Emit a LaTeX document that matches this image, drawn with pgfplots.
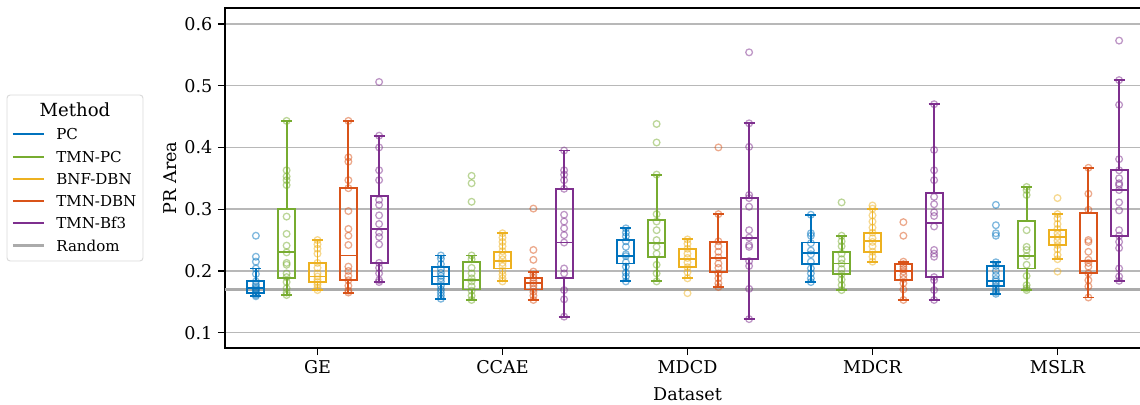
\documentclass[border=0pt]{standalone}
\usepackage{fontspec}
\setmainfont{DejaVu Serif}
\usepackage{pgfplots}
\pgfplotsset{compat=1.18}
\usepgfplotslibrary{statistics}
\definecolor{cPC}{HTML}{0072BD}
\definecolor{cTPC}{HTML}{77AC30}
\definecolor{cBNF}{HTML}{EDB120}
\definecolor{cTDBN}{HTML}{D95319}
\definecolor{cBf3}{HTML}{7E2F8E}
\definecolor{cRand}{HTML}{ABABAB}
\definecolor{cGrid}{HTML}{B8B8B8}
\pgfplotsset{
  pts/.style={only marks, mark=o, mark size=2.1pt, line width=0.8pt, opacity=0.5, forget plot},
  bxs/.style={line width=1.2pt, forget plot, solid},
}
% box(colour, pos, lw, q1, med, q3, uw)
\newcommand{\bx}[7]{\addplot[#1, bxs, boxplot/draw direction=y, boxplot prepared={draw position=#2, lower whisker=#3, lower quartile=#4, median=#5, upper quartile=#6, upper whisker=#7, draw direction=y}] coordinates {};}
\begin{document}
\begin{tikzpicture}
\begin{axis}[
  name=ax,
  scale only axis, width=578.125pt, height=212.5pt,
  xmin=-0.5, xmax=4.5, ymin=0.0752, ymax=0.6258,
  xtick={0,1,2,3,4}, xticklabels={GE,CCAE,MDCD,MDCR,MSLR},
  ytick={0.1,0.2,0.3,0.4,0.5,0.6},
  yticklabel style={/pgf/number format/.cd, fixed, precision=1, zerofill, assume math mode=true},
  tick label style={font=\fontsize{11}{13}\selectfont},
  label style={font=\fontsize{11}{13}\selectfont},
  xlabel={Dataset}, ylabel={PR Area},
  xlabel style={at={(axis description cs:0.5,-0.136)}, anchor=center},
  ylabel style={at={(axis description cs:-0.0595,0.5)}, anchor=center},
  tick align=outside, xtick pos=bottom, ytick pos=left,
  major tick length=4.4pt,
  every tick/.style={black, line width=0.8pt},
  axis line style={line width=0.8pt},
  ymajorgrids, grid style={cGrid, line width=0.9pt},
  boxplot/draw direction=y,
  boxplot/box extend=0.092, boxplot/whisker extend=0.06,
]
% Random baseline
\addplot[cRand, line width=2pt, forget plot] coordinates {(-0.5,0.17) (4.5,0.17)};

% ---------- points ----------
% GE
\addplot[cPC, pts] coordinates {(-0.333,0.257)(-0.333,0.223)(-0.333,0.215)(-0.333,0.204)(-0.333,0.195)(-0.333,0.183)(-0.333,0.178)(-0.333,0.175)(-0.333,0.172)(-0.333,0.170)(-0.333,0.168)(-0.333,0.165)(-0.333,0.163)(-0.333,0.161)(-0.333,0.159)};
\addplot[cTPC, pts] coordinates {(-0.167,0.443)(-0.167,0.363)(-0.167,0.353)(-0.167,0.347)(-0.167,0.339)(-0.167,0.288)(-0.167,0.260)(-0.167,0.241)(-0.167,0.230)(-0.167,0.213)(-0.167,0.210)(-0.167,0.196)(-0.167,0.190)(-0.167,0.182)(-0.167,0.172)(-0.167,0.165)(-0.167,0.161)};
\addplot[cBNF, pts] coordinates {(0,0.250)(0,0.243)(0,0.236)(0,0.228)(0,0.213)(0,0.205)(0,0.196)(0,0.191)(0,0.186)(0,0.182)(0,0.178)(0,0.173)(0,0.169)};
\addplot[cTDBN, pts] coordinates {(0.167,0.443)(0.167,0.384)(0.167,0.377)(0.167,0.347)(0.167,0.334)(0.167,0.297)(0.167,0.268)(0.167,0.257)(0.167,0.242)(0.167,0.207)(0.167,0.200)(0.167,0.192)(0.167,0.185)(0.167,0.176)(0.167,0.168)(0.167,0.165)};
\addplot[cBf3, pts] coordinates {(0.333,0.506)(0.333,0.419)(0.333,0.400)(0.333,0.363)(0.333,0.347)(0.333,0.315)(0.333,0.307)(0.333,0.290)(0.333,0.276)(0.333,0.262)(0.333,0.255)(0.333,0.243)(0.333,0.213)(0.333,0.205)(0.333,0.196)(0.333,0.185)(0.333,0.182)};
% CCAE
\addplot[cPC, pts] coordinates {(0.667,0.225)(0.667,0.220)(0.667,0.211)(0.667,0.203)(0.667,0.197)(0.667,0.192)(0.667,0.188)(0.667,0.183)(0.667,0.176)(0.667,0.170)(0.667,0.165)(0.667,0.160)(0.667,0.155)};
\addplot[cTPC, pts] coordinates {(0.833,0.354)(0.833,0.342)(0.833,0.312)(0.833,0.225)(0.833,0.219)(0.833,0.205)(0.833,0.196)(0.833,0.188)(0.833,0.183)(0.833,0.175)(0.833,0.168)(0.833,0.160)(0.833,0.153)};
\addplot[cBNF, pts] coordinates {(1,0.261)(1,0.254)(1,0.247)(1,0.240)(1,0.232)(1,0.225)(1,0.219)(1,0.213)(1,0.208)(1,0.200)(1,0.194)(1,0.188)(1,0.183)};
\addplot[cTDBN, pts] coordinates {(1.167,0.301)(1.167,0.234)(1.167,0.218)(1.167,0.199)(1.167,0.194)(1.167,0.189)(1.167,0.184)(1.167,0.180)(1.167,0.176)(1.167,0.171)(1.167,0.166)(1.167,0.160)(1.167,0.153)};
\addplot[cBf3, pts] coordinates {(1.333,0.395)(1.333,0.363)(1.333,0.356)(1.333,0.347)(1.333,0.333)(1.333,0.291)(1.333,0.280)(1.333,0.269)(1.333,0.258)(1.333,0.246)(1.333,0.204)(1.333,0.196)(1.333,0.169)(1.333,0.154)(1.333,0.126)};
% MDCD
\addplot[cPC, pts] coordinates {(1.667,0.269)(1.667,0.262)(1.667,0.256)(1.667,0.248)(1.667,0.239)(1.667,0.227)(1.667,0.224)(1.667,0.214)(1.667,0.207)(1.667,0.197)(1.667,0.191)(1.667,0.183)};
\addplot[cTPC, pts] coordinates {(1.833,0.438)(1.833,0.408)(1.833,0.356)(1.833,0.292)(1.833,0.280)(1.833,0.266)(1.833,0.250)(1.833,0.239)(1.833,0.228)(1.833,0.210)(1.833,0.196)(1.833,0.183)};
\addplot[cBNF, pts] coordinates {(2,0.251)(2,0.244)(2,0.236)(2,0.228)(2,0.221)(2,0.214)(2,0.206)(2,0.198)(2,0.188)(2,0.164)};
\addplot[cTDBN, pts] coordinates {(2.167,0.400)(2.167,0.292)(2.167,0.248)(2.167,0.240)(2.167,0.231)(2.167,0.222)(2.167,0.212)(2.167,0.205)(2.167,0.196)(2.167,0.188)(2.167,0.180)(2.167,0.174)};
\addplot[cBf3, pts] coordinates {(2.333,0.554)(2.333,0.439)(2.333,0.401)(2.333,0.323)(2.333,0.318)(2.333,0.304)(2.333,0.266)(2.333,0.254)(2.333,0.242)(2.333,0.239)(2.333,0.216)(2.333,0.208)(2.333,0.171)(2.333,0.122)};
% MDCR
\addplot[cPC, pts] coordinates {(2.667,0.291)(2.667,0.261)(2.667,0.257)(2.667,0.245)(2.667,0.233)(2.667,0.227)(2.667,0.215)(2.667,0.204)(2.667,0.196)(2.667,0.188)(2.667,0.182)};
\addplot[cTPC, pts] coordinates {(2.833,0.311)(2.833,0.257)(2.833,0.248)(2.833,0.240)(2.833,0.228)(2.833,0.219)(2.833,0.212)(2.833,0.203)(2.833,0.195)(2.833,0.186)(2.833,0.177)(2.833,0.169)};
\addplot[cBNF, pts] coordinates {(3,0.306)(3,0.301)(3,0.290)(3,0.280)(3,0.270)(3,0.262)(3,0.253)(3,0.247)(3,0.240)(3,0.231)(3,0.223)(3,0.215)};
\addplot[cTDBN, pts] coordinates {(3.167,0.279)(3.167,0.257)(3.167,0.215)(3.167,0.211)(3.167,0.207)(3.167,0.203)(3.167,0.199)(3.167,0.193)(3.167,0.187)(3.167,0.180)(3.167,0.170)(3.167,0.153)};
\addplot[cBf3, pts] coordinates {(3.333,0.470)(3.333,0.396)(3.333,0.363)(3.333,0.347)(3.333,0.320)(3.333,0.308)(3.333,0.295)(3.333,0.289)(3.333,0.272)(3.333,0.234)(3.333,0.228)(3.333,0.223)(3.333,0.190)(3.333,0.185)(3.333,0.169)(3.333,0.153)};
% MSLR
\addplot[cPC, pts] coordinates {(3.667,0.307)(3.667,0.274)(3.667,0.261)(3.667,0.257)(3.667,0.214)(3.667,0.208)(3.667,0.200)(3.667,0.193)(3.667,0.187)(3.667,0.183)(3.667,0.179)(3.667,0.175)(3.667,0.170)(3.667,0.166)(3.667,0.163)};
\addplot[cTPC, pts] coordinates {(3.833,0.336)(3.833,0.331)(3.833,0.323)(3.833,0.266)(3.833,0.239)(3.833,0.234)(3.833,0.224)(3.833,0.210)(3.833,0.192)(3.833,0.177)(3.833,0.172)(3.833,0.169)};
\addplot[cBNF, pts] coordinates {(4,0.318)(4,0.292)(4,0.285)(4,0.276)(4,0.268)(4,0.261)(4,0.255)(4,0.249)(4,0.242)(4,0.235)(4,0.226)(4,0.219)(4,0.199)};
\addplot[cTDBN, pts] coordinates {(4.167,0.367)(4.167,0.325)(4.167,0.299)(4.167,0.250)(4.167,0.247)(4.167,0.231)(4.167,0.218)(4.167,0.213)(4.167,0.207)(4.167,0.196)(4.167,0.185)(4.167,0.175)(4.167,0.157)};
\addplot[cBf3, pts] coordinates {(4.333,0.573)(4.333,0.509)(4.333,0.469)(4.333,0.381)(4.333,0.363)(4.333,0.350)(4.333,0.342)(4.333,0.339)(4.333,0.331)(4.333,0.311)(4.333,0.298)(4.333,0.266)(4.333,0.257)(4.333,0.247)(4.333,0.237)(4.333,0.204)(4.333,0.191)(4.333,0.184)};

% ---------- boxes ----------
% GE
\bx{cPC}{-0.333}{0.159}{0.164}{0.172}{0.183}{0.204}
\bx{cTPC}{-0.167}{0.161}{0.189}{0.231}{0.300}{0.443}
\bx{cBNF}{0}{0.169}{0.182}{0.191}{0.213}{0.250}
\bx{cTDBN}{0.167}{0.165}{0.185}{0.225}{0.334}{0.443}
\bx{cBf3}{0.333}{0.182}{0.213}{0.268}{0.322}{0.419}
% CCAE
\bx{cPC}{0.667}{0.155}{0.179}{0.191}{0.206}{0.225}
\bx{cTPC}{0.833}{0.153}{0.170}{0.185}{0.215}{0.225}
\bx{cBNF}{1}{0.183}{0.204}{0.216}{0.230}{0.261}
\bx{cTDBN}{1.167}{0.153}{0.170}{0.180}{0.189}{0.199}
\bx{cBf3}{1.333}{0.126}{0.189}{0.246}{0.333}{0.395}
% MDCD
\bx{cPC}{1.667}{0.183}{0.212}{0.224}{0.250}{0.269}
\bx{cTPC}{1.833}{0.183}{0.223}{0.245}{0.282}{0.356}
\bx{cBNF}{2}{0.188}{0.206}{0.220}{0.235}{0.251}
\bx{cTDBN}{2.167}{0.1735}{0.198}{0.221}{0.247}{0.292}
\bx{cBf3}{2.333}{0.122}{0.220}{0.254}{0.318}{0.439}
% MDCR
\bx{cPC}{2.667}{0.182}{0.211}{0.229}{0.246}{0.291}
\bx{cTPC}{2.833}{0.169}{0.195}{0.212}{0.231}{0.257}
\bx{cBNF}{3}{0.215}{0.231}{0.248}{0.261}{0.301}
\bx{cTDBN}{3.167}{0.153}{0.186}{0.200}{0.211}{0.215}
\bx{cBf3}{3.333}{0.153}{0.190}{0.277}{0.326}{0.470}
% MSLR
\bx{cPC}{3.667}{0.163}{0.176}{0.183}{0.208}{0.214}
\bx{cTPC}{3.833}{0.169}{0.204}{0.224}{0.281}{0.336}
\bx{cBNF}{4}{0.219}{0.242}{0.255}{0.267}{0.292}
\bx{cTDBN}{4.167}{0.157}{0.197}{0.216}{0.294}{0.367}
\bx{cBf3}{4.333}{0.184}{0.256}{0.331}{0.363}{0.509}
\end{axis}
% ---------- legend (drawn beside the axis) ----------
\begin{scope}[shift={(ax.south west)}, font=\fontsize{9.4}{11}\selectfont]
  \draw[gray!30, line width=0.6pt, fill=white, rounded corners=2pt] (-136.25pt,54.375pt) rectangle (-51.25pt,158.125pt);
  \node[anchor=base, font=\fontsize{11.3}{13}\selectfont, inner sep=0pt] at (-93.75pt,144.6pt) {Method};
  \foreach \yy/\cc/\ww/\tt in {133.56/cPC/1.2pt/PC, 119.56/cTPC/1.2pt/TMN-PC, 105.6/cBNF/1.2pt/BNF-DBN, 91.7/cTDBN/1.2pt/TMN-DBN, 77.9/cBf3/1.2pt/TMN-Bf3, 63.9/cRand/2pt/Random}{
    \draw[\cc, line width=\ww] (-132.5pt,\yy pt) -- (-113.1pt,\yy pt);
    \node[anchor=base west, inner sep=0pt] at (-105.6pt,\yy pt-3.4pt) {\tt};
  }
\end{scope}
\pgfresetboundingbox
\path[use as bounding box] ([xshift=-140.625pt, yshift=-35pt]ax.south west) rectangle ([xshift=-6.25pt, yshift=5pt]ax.north east);
\end{tikzpicture}
\end{document}
